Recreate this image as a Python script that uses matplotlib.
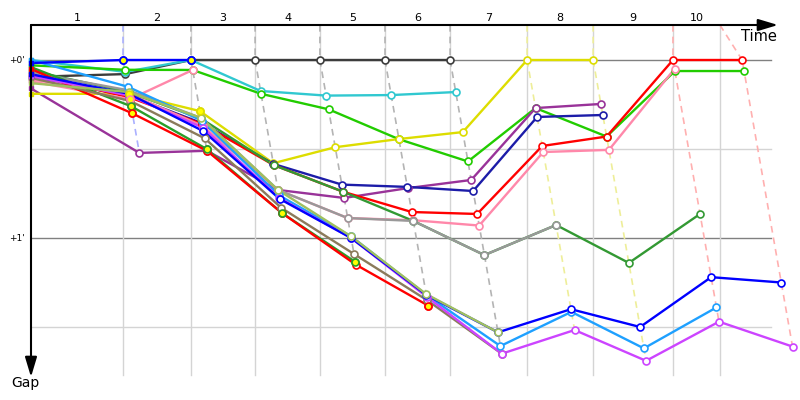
import numpy as np
import matplotlib.pyplot as plt

# ----------------------------------- DATA -----------------------------------
# time (min) when the leader crosses the line at the end of each lap, lap 0 = start
lead_time = [0, 2.94, 5.11, 7.16, 9.23, 11.31, 13.39, 15.85, 17.96, 20.51, 22.72]
# vertical grid marks (one per lap)
lap_marks = [2.94, 5.11, 7.16, 9.23, 11.31, 13.39, 15.85, 17.96, 20.51, 22.01]
lap_labels = ['1', '2', '3', '4', '5', '6', '7', '8', '9', '10']
lap_dash_colors = ['#aab0ff', '#b4b4b4', '#b4b4b4', '#b4b4b4', '#b4b4b4', '#b4b4b4',
                   '#eeee99', '#eeee99', '#ffb0b0', '#ffb0b0']

gap_ticks = [0, 1]
gap_tick_labels = ["+0'", "+1'"]
gap_minor = [0.5, 1.5]

# gap to leader (min) at end of each lap, one list per car
series_colors = ['#3c3c3c', '#30c8d0', '#22cc00', '#993399', '#dddd00', '#1c1ca8',
                 '#ff0000', '#ff88aa', '#ff88aa', '#339933', '#999999', '#2a9d2a',
                 '#ff0000', '#8b7b5b', '#1ea0ff', '#cc44ff', '#0000ff', '#0000ff',
                 '#a0c060']
series_gaps = [
    [0.095, 0.079, 0, 0, 0, 0, 0],
    [0.0, 0.067, 0, 0.174, 0.20, 0.197, 0.18],
    [0.03, 0.055, 0.056, 0.19, 0.277, 0.445, 0.57, 0.27, 0.43, 0.062, 0.062],
    [0.16, 0.522, 0.51, 0.73, 0.775, 0.72, 0.674, 0.27, 0.247],
    [0.19, 0.19, 0.287, 0.58, 0.49, 0.444, 0.405, 0, 0],
    [0.10, 0.20, 0.355, 0.584, 0.70, 0.713, 0.736, 0.32, 0.309],
    [0.08, 0.21, 0.36, 0.59, 0.74, 0.854, 0.865, 0.483, 0.43, 0.0, 0.0],
    [0.12, 0.22, 0.056],
    [0.11, 0.19, 0.37, 0.73, 0.888, 0.90, 0.93, 0.517, 0.505, 0.05],
    [0.06, 0.18, 0.33, 0.59, 0.74, 0.904, 1.096, 0.927, 1.14, 0.865],
    [0.07, 0.17, 0.326, 0.73, 0.888, 0.904, 1.096, 0.927],
    [0.04, 0.26, 0.50, 0.86, 1.135],
    [0.05, 0.30, 0.51, 0.86, 1.15, 1.38],
    [0.10, 0.23, 0.44, 0.83, 1.09, 1.35, 1.65],
    [0.0, 0.15, 0.34, 0.76, 0.99, 1.32, 1.607, 1.415, 1.62, 1.39],
    [0.09, 0.20, 0.38, 0.775, 1.0, 1.33, 1.65, 1.517, 1.69, 1.47, 1.61],
    [0.017, 0.0, 0.0],
    [0.08, 0.19, 0.40, 0.78, 1.0, 1.32, 1.53, 1.40, 1.50, 1.22, 1.25],
    [0.13, 0.18, 0.326, 0.73, 0.99, 1.315, 1.53],
]
# laps where the marker is filled yellow
series_marked = [[], [], [], [], [1, 2], [], [], [1], [], [], [], [1, 2, 3, 4], [1, 5],
                 [], [], [], [1, 2], [], []]

# ----------------------------------- PLOT -----------------------------------
PX_X = 31.3   # pixels per minute, horizontal
PX_Y = 178.0  # pixels per minute, vertical
X0, Y0 = 31, 60  # pixel position of the start / zero gap


def px_x(p):
    return (p - X0) / PX_X


def px_y(p):
    return (p - Y0) / PX_Y


fig = plt.figure(figsize=(8, 4), dpi=100)
ax = fig.add_axes([0, 0, 1, 1])
ax.set_xlim(px_x(0), px_x(800))
ax.set_ylim(px_y(400), px_y(0))
ax.axis('off')

y_top = px_y(25)
y_bot = px_y(375)
x_end = px_x(771)

# grid
for g in gap_ticks:
    ax.plot([0, x_end], [g, g], color='#808080', lw=1, zorder=1)
for g in gap_minor:
    ax.plot([0, x_end], [g, g], color='#d4d4d4', lw=1, zorder=1)
for m in lap_marks:
    ax.plot([m, m], [y_top, y_bot], color='#d4d4d4', lw=1, zorder=1)

# lap labels
edges = [0] + lap_marks
for i, lab in enumerate(lap_labels):
    ax.text((edges[i] + edges[i + 1]) / 2, px_y(18), lab, ha='center', va='center',
            fontsize=8)
for g, lab in zip(gap_ticks, gap_tick_labels):
    ax.text(px_x(17), g, lab, ha='center', va='center', fontsize=6.5)

# dashed lap lines: from the grid mark through every car crossing that lap
for k in range(1, len(lead_time)):
    gaps_k = [s[k] for s in series_gaps if len(s) > k]
    gmax = max(gaps_k)
    ax.plot([lap_marks[k - 1], lead_time[k], lead_time[k] + gmax], [y_top, 0, gmax],
            color=lap_dash_colors[k - 1], lw=1.2, ls=(0, (4, 3)), zorder=2)

# cars
for col, gaps, marked in zip(series_colors, series_gaps, series_marked):
    xs = [0] + [lead_time[k] + gaps[k] for k in range(1, len(gaps))]
    ax.plot(xs, gaps, color=col, lw=1.7, zorder=3, solid_capstyle='round')
    ax.plot(xs[1:], gaps[1:], 'o', ms=5, mfc='white', mec=col, mew=1.2, zorder=4)
    ax.plot(xs[0], gaps[0], 's', ms=3, mfc=col, mec=col, zorder=4)
    for k in marked:
        ax.plot(xs[k], gaps[k], 'o', ms=5, mfc='#ffff00', mec=col, mew=1.2, zorder=5)

# axes with arrows
arrow = dict(arrowstyle='-|>,head_length=1.0,head_width=0.3', color='black',
             lw=1.5, shrinkA=0, shrinkB=0, mutation_scale=12)
ax.annotate('', xy=(px_x(778), y_top), xytext=(0, y_top), arrowprops=arrow, zorder=6)
ax.annotate('', xy=(0, px_y(377)), xytext=(0, y_top), arrowprops=arrow, zorder=6)
ax.text(px_x(777), px_y(36), 'Time', ha='right', va='center', fontsize=10.5)
ax.text(px_x(25), px_y(383), 'Gap', ha='center', va='center', fontsize=10)

fig.savefig('out.png', dpi=100)
